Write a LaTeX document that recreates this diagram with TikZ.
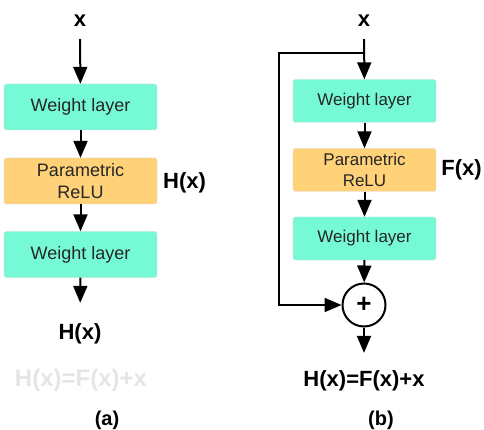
\documentclass[tikz,border=0pt]{standalone}
\usepackage{fontspec}
\setmainfont{Liberation Sans}
\usetikzlibrary{arrows.meta}
\definecolor{layerteal}{RGB}{118, 250, 214}
\definecolor{reluorange}{RGB}{255, 210, 122}

\tikzset{
  layer/.style={draw=black!15, rounded corners=2.5pt, minimum width=153pt, minimum height=46pt,
    inner sep=0pt, align=center, text=black!85, font=\fontsize{18}{21.7}\selectfont},
  layer b/.style={layer, minimum width=143pt, minimum height=43pt, font=\fontsize{17}{21.7}\selectfont},
  lbl/.style={inner sep=0pt, font=\bfseries\fontsize{22}{26}\selectfont},
  arr/.style={line width=2pt, -{Triangle[length=17pt, width=14pt]}},
}

\begin{document}
\begin{tikzpicture}[x=1pt, y=-1pt]
  \useasboundingbox (0, 0) rectangle (484, 430);

  % Plain block (a)
  \node[lbl, anchor=base] (xa) at (80, 27) {x};
  \node[layer, fill=layerteal] (wa1) at (80.5, 107) {Weight layer};
  \node[layer, fill=reluorange] (pa) at (80.5, 181) {Parametric\\ReLU};
  \node[layer, fill=layerteal] (wa2) at (80.5, 254.5) {Weight layer};
  \node[lbl, anchor=base] (ha) at (80, 339) {H(x)};
  \node[lbl, anchor=west] (hside) at (163, 183) {H(x)};
  \node[lbl, text=black!10, font=\bfseries\fontsize{24}{28}\selectfont] (ghost) at (81, 380) {H(x)=F(x)+x};
  \node[lbl, font=\bfseries\fontsize{20}{24}\selectfont] (capa) at (107, 420) {(a)};

  \draw[arr, shorten <=12pt] (xa) -- (wa1);
  \draw[arr] (wa1) -- (pa);
  \draw[arr] (pa) -- (wa2);
  \draw[arr, shorten >=20pt] (wa2) -- (ha);

  % Residual block (b)
  \node[lbl, anchor=base] (xb) at (364, 27) {x};
  \node[layer b, fill=layerteal] (wb1) at (364.5, 101) {Weight layer};
  \node[layer b, fill=reluorange] (pb) at (364.5, 170) {Parametric\\ReLU};
  \node[layer b, fill=layerteal] (wb2) at (364.5, 238.5) {Weight layer};
  \node[lbl, anchor=east] (fside) at (482, 170) {F(x)};
  \node[circle, draw, line width=2pt, minimum size=43pt, inner sep=0pt,
    font=\bfseries\fontsize{26}{26}\selectfont] (plus) at (364, 305) {+};
  \node[lbl, anchor=base] (hb) at (364, 386) {H(x)=F(x)+x};
  \node[lbl, font=\bfseries\fontsize{20}{24}\selectfont] (capb) at (381, 420) {(b)};

  \coordinate (split) at (364, 53);
  \coordinate (bend) at (279, 53);

  \draw[arr, shorten <=12pt] (xb) -- (wb1);
  \draw[arr] (wb1) -- (pb);
  \draw[arr] (pb) -- (wb2);
  \draw[arr] (wb2) -- (plus);
  \draw[arr, shorten >=17pt] (plus) -- (hb);

  % Skip connection
  \draw[arr] (split) -- (bend) |- (plus);
\end{tikzpicture}
\end{document}
